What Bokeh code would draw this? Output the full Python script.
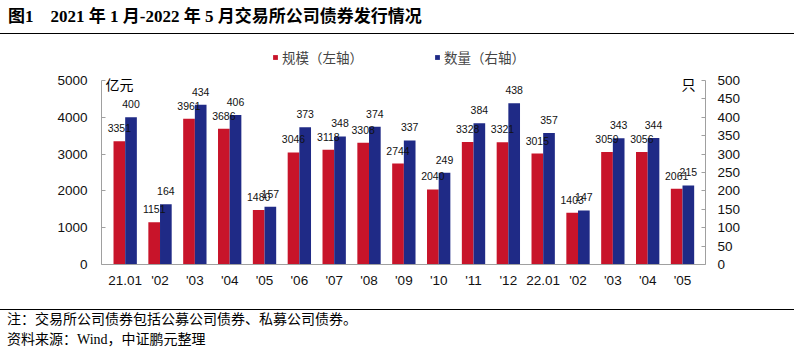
from bokeh.plotting import figure
from bokeh.models import (Range1d, LinearAxis, FixedTicker, Label, Div,
                          Legend, LegendItem, ColumnDataSource)
from bokeh.layouts import column
from bokeh.core.properties import value
from bokeh.embed import file_html
from bokeh.resources import INLINE

# ---- data ----
months = ["21.01", "'02", "'03", "'04", "'05", "'06", "'07", "'08", "'09", "'10",
          "'11", "'12", "22.01", "'02", "'03", "'04", "'05"]
scale = [3351, 1151, 3961, 3686, 1480, 3046, 3118, 3308, 2744, 2040,
         3328, 3321, 3015, 1403, 3059, 3056, 2061]          # 亿元, left axis
count = [400, 164, 434, 406, 157, 373, 348, 374, 337, 249,
         384, 438, 357, 147, 343, 344, 215]                 # 只, right axis
left_ticks = [0, 1000, 2000, 3000, 4000, 5000]
right_ticks = [0, 50, 100, 150, 200, 250, 300, 350, 400, 450, 500]

title_text = "图1&nbsp;&nbsp;&nbsp;&nbsp;2021 年 1 月-2022 年 5 月交易所公司债券发行情况"
note1 = "注：交易所公司债券包括公募公司债券、私募公司债券。"
note2 = "资料来源：Wind，中证鹏元整理"

RED = "#C8142A"
BLUE = "#1F2A86"
GRAY = "#A0A0A0"

W = 794
TITLE_H = 34          # title block (line at its bottom)
FIG_TOP = TITLE_H     # page y where the figure starts
NOTE_TOP = 309        # page y of the line above the notes
FL, FR, FB = 101, 705, 264      # frame left/right/bottom in page pixels
AX_TOP = 80                     # page y of the 5000 / 500 tick
FIG_H = NOTE_TOP - FIG_TOP
frame_h = FB - FIG_TOP
y_end = 5000 * frame_h / (FB - AX_TOP)
y2_end = 500 * frame_h / (FB - AX_TOP)

idx = list(range(len(months)))
BW = 0.335
src = ColumnDataSource(dict(
    xr=[i - BW / 2 for i in idx], xb=[i + BW / 2 for i in idx],
    scale=scale, count=count,
    scale_t=[str(v) for v in scale], count_t=[str(v) for v in count]))

p = figure(width=W, height=FIG_H, output_backend="svg", toolbar_location=None,
           x_range=Range1d(-0.68, 16.66), y_range=Range1d(0, y_end),
           min_border_left=FL, min_border_right=W - FR,
           min_border_top=0, min_border_bottom=NOTE_TOP - FB)
p.extra_y_ranges = {"cnt": Range1d(0, y2_end)}
p.outline_line_color = None
p.xgrid.visible = False
p.ygrid.visible = False
p.background_fill_color = "white"
p.border_fill_color = "white"

r1 = p.vbar(x="xr", top="scale", width=BW, source=src, fill_color=RED, line_color=None)
r2 = p.vbar(x="xb", top="count", width=BW, source=src, fill_color=BLUE, line_color=None,
            y_range_name="cnt")

lab_font = value("Liberation Sans")
p.text(x="xr", y="scale", text="scale_t", source=src, text_font=lab_font,
       text_font_size="10.5px", text_align="center", text_baseline="middle",
       y_offset=-13, text_color="#111111")
p.text(x="xb", y="count", text="count_t", source=src, text_font=lab_font,
       text_font_size="10.5px", text_align="center", text_baseline="middle",
       y_offset=-13, text_color="#111111", y_range_name="cnt")

def style_axis(ax, standoff):
    ax.axis_line_color = GRAY
    ax.major_tick_line_color = GRAY
    ax.minor_tick_line_color = None
    ax.major_tick_in = 4
    ax.major_tick_out = 0
    ax.major_label_standoff = standoff
    ax.major_label_text_font = "Liberation Sans"
    ax.major_label_text_font_size = "13.5px"
    ax.major_label_text_color = "#111111"

xa = p.xaxis[0]
xa.ticker = FixedTicker(ticks=idx)
xa.major_label_overrides = {i: m for i, m in zip(idx, months)}
style_axis(xa, 8)
xa.major_tick_in = 0

ya = p.yaxis[0]
ya.ticker = FixedTicker(ticks=left_ticks)
ya.bounds = (0, 5000)
style_axis(ya, 14)

ra = LinearAxis(y_range_name="cnt", ticker=FixedTicker(ticks=right_ticks), bounds=(0, 500))
style_axis(ra, 12)
p.add_layout(ra, "right")

legend = Legend(items=[LegendItem(label="规模（左轴）", renderers=[r1]),
                       LegendItem(label="数量（右轴）", renderers=[r2])],
                orientation="horizontal", location=(272 - FL, FB - 67),
                glyph_width=6, glyph_height=6, label_standoff=4, spacing=71,
                padding=0, margin=0, border_line_alpha=0, background_fill_alpha=0,
                label_text_font="Noto Sans CJK SC", label_text_font_size="13.5px",
                label_height=14, label_width=0)
p.add_layout(legend)

def sx(px):
    return px - FL

def sy(py):
    return FB - py

p.add_layout(Label(x=sx(105), y=sy(83), x_units="screen", y_units="screen", text="亿元",
                   text_font="Noto Sans CJK SC", text_font_size="14px",
                   text_baseline="middle", text_align="left", text_color="black"))
p.add_layout(Label(x=sx(681), y=sy(83), x_units="screen", y_units="screen", text="只",
                   text_font="Noto Sans CJK SC", text_font_size="14px",
                   text_baseline="middle", text_align="left", text_color="black"))

serif_cjk = "'Liberation Serif', 'Noto Sans CJK SC', serif"
title_div = Div(text=title_text, width=W, height=TITLE_H, margin=0,
                styles={"font-family": serif_cjk, "font-size": "17px", "font-weight": "bold",
                        "color": "black", "border-bottom": "1px solid black",
                        "box-sizing": "border-box", "padding-left": "8px",
                        "line-height": "33px", "white-space": "nowrap",
                        "background-color": "white"})
notes_div = Div(text=note1 + "<br>" + note2, width=W, height=353 - NOTE_TOP, margin=0,
                styles={"font-family": serif_cjk, "font-size": "14px", "color": "black",
                        "border-top": "1px solid black", "box-sizing": "border-box",
                        "padding-left": "7px", "line-height": "20px",
                        "white-space": "nowrap", "background-color": "white"})

layout = column(title_div, p, notes_div, spacing=0)
open("out.html", "w").write(file_html(layout, INLINE))
